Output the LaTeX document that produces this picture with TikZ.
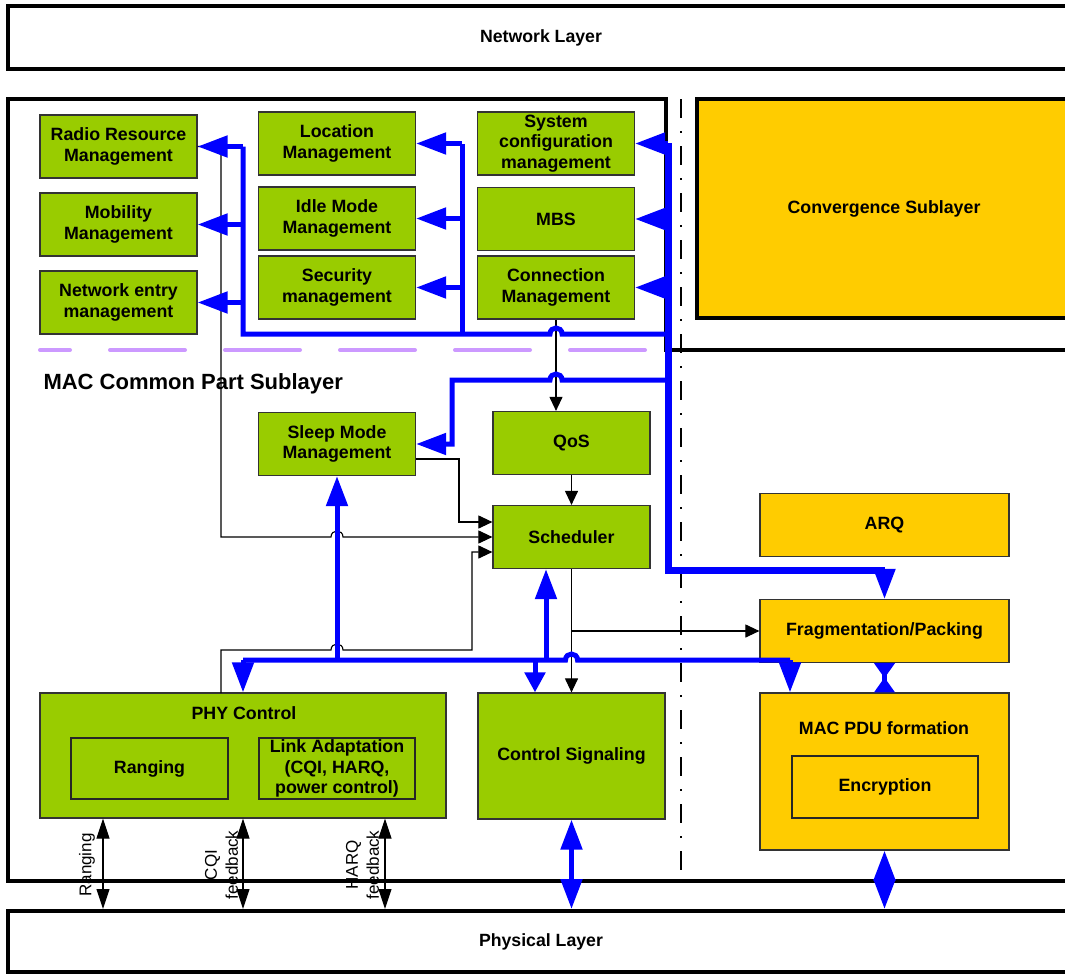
\documentclass[tikz,border=0pt]{standalone}
\usepackage{fontspec}
\setmainfont{Liberation Sans}
\usetikzlibrary{arrows.meta}

\definecolor{macgreen}{HTML}{99CC00}
\definecolor{csorange}{HTML}{FFCC00}
\definecolor{busblue}{HTML}{0000FF}
\definecolor{lavender}{HTML}{CC99FF}
\newcommand{\boxfont}{\fontsize{17.8}{20.5}\selectfont\bfseries}

\tikzset{
  gbox/.style={draw=black!80, line width=1.2, fill=macgreen, font=\boxfont,
    align=center, inner sep=1pt, minimum width=157, minimum height=63},
  obox/.style={gbox, fill=csorange, minimum width=249},
  inbox/.style={draw=black!85, line width=1.2, font=\boxfont, align=center, inner sep=1pt},
  layer/.style={draw, line width=4, font=\fontsize{17.7}{20}\selectfont\bfseries},
  thinarrow/.style={draw, line width=1.1, -{Triangle[length=14pt,width=13pt]}},
  fbarrow/.style={draw, line width=1.1,
    {Triangle[length=20pt,width=13pt]}-{Triangle[length=20pt,width=13pt]}},
  busline/.style={draw=busblue, line width=5},
  mainbus/.style={draw=busblue, line width=7},
  busarrow/.style={busline, -{Triangle[length=30pt,width=21pt]}},
  busdouble/.style={busline,
    {Triangle[length=30pt,width=21pt]}-{Triangle[length=30pt,width=21pt]}},
  splitline/.style={line width=2.2, dash pattern=on 19pt off 13pt on 2pt off 13pt},
  sidelabel/.style={rotate=90, align=center, font=\fontsize{17}{21}\selectfont},
}

\begin{document}
\begin{tikzpicture}[x=1pt,y=-1pt]
  \useasboundingbox (0,0) rectangle (1065,974);
  \clip (0,0) rectangle (1065,974);

  % layers
  \node[layer, minimum width=1066, minimum height=63] (netlayer) at (541,37.5) {Network Layer};
  \node[layer, minimum width=1066, minimum height=61] (phylayer) at (541,941.5) {Physical Layer};
  \draw[line width=4] (1080,350) -- (666,350) -- (666,99) -- (8,99) -- (8,881) -- (1080,881);
  \node[layer, fill=csorange, font=\boxfont, minimum width=374, minimum height=219] (conv) at (884,208.5) {Convergence Sublayer};
  \draw[splitline] (681,99) -- (681,881);
  \draw[lavender, line width=4, line cap=round, dash pattern=on 75pt off 40pt, dash phase=45pt] (40,350) -- (645,350);
  \node[anchor=west, font=\fontsize{22}{25}\selectfont\bfseries] (cpslabel) at (40,384) {MAC Common Part Sublayer};

  % management blocks
  \node[gbox] (rrm) at (118.5,146.5) {Radio Resource\\Management};
  \node[gbox] (mob) at (118.5,224.5) {Mobility\\Management};
  \node[gbox] (netentry) at (118.5,302.5) {Network entry\\management};
  \node[gbox] (loc) at (337,143.5) {Location\\Management};
  \node[gbox] (idle) at (337,218.5) {Idle Mode\\Management};
  \node[gbox] (sec) at (337,287.5) {Security\\management};
  \node[gbox] (sysconf) at (556,143.5) {System\\configuration\\management};
  \node[gbox] (mbs) at (556,219) {MBS};
  \node[gbox] (conn) at (556,287.5) {Connection\\Management};
  \node[gbox] (sleep) at (337,444) {Sleep Mode\\Management};
  \node[gbox] (qos) at (571.5,443) {QoS};
  \node[gbox] (sched) at (571.5,537) {Scheduler};

  % PHY control and signaling
  \node[gbox, minimum width=406, minimum height=125] (phy) at (243,755.5) {};
  \node[font=\boxfont] (phytitle) at (244,713) {PHY Control};
  \node[inbox, minimum width=157, minimum height=61] (rangebox) at (149.5,768.5) {Ranging};
  \node[inbox, minimum width=156, minimum height=61] (linkadapt) at (337,768.5) {Link Adaptation\\(CQI, HARQ,\\power control)};
  \node[gbox, minimum width=187, minimum height=126] (ctrl) at (571.5,756) {Control Signaling};

  % security sublayer side
  \node[obox] (arq) at (884.5,525) {ARQ};
  \node[obox] (frag) at (884.5,631) {Fragmentation/Packing};
  \node[obox, minimum height=157] (macpdu) at (884.5,771.5) {};
  \node[font=\boxfont] (pdutitle) at (884,728) {MAC PDU formation};
  \node[inbox, minimum width=186, minimum height=62] (encrypt) at (885,787) {Encryption};

  % black data paths
  \draw[thinarrow] (conn.south) -- (conn.south |- qos.north);
  \draw[thinarrow] (qos.south) -- (sched.north);
  \draw[thinarrow] (rrm.east) -- (221,146.5) -- (221,537) -- (331,537)
    .. controls (331,529) and (343,529) .. (343,537) -- (sched.west);
  \draw[thinarrow] (415.5,459) -- (459,459) -- (459,522) -- (459,522 -| sched.west);
  \draw[thinarrow] (221,693) -- (221,650) -- (331,650) .. controls (331,642) and (343,642) .. (343,650)
    -- (472,650) -- (472,552) -- (472,552 -| sched.west);
  \draw[thinarrow] (sched.south) -- (ctrl.north);
  \draw[thinarrow] (571.5,631) -- (frag.west);

  % blue control bus
  \draw[mainbus] (668,143) -- (668,570) -- (884.5,570);
  \draw[busarrow] (884.5,570) -- (frag.north);
  \draw[busarrow] (668,143.5) -- (sysconf.east);
  \draw[busarrow] (668,219) -- (mbs.east);
  \draw[busarrow] (668,287.5) -- (conn.east);
  \draw[busline] (668,334) -- (562,334) .. controls (562,326) and (550,326) .. (550,334)
    -- (243,334) -- (243,146.5);
  \draw[busline] (462,334) -- (462,143.5);
  \draw[busarrow] (243,146.5) -- (rrm.east);
  \draw[busarrow] (243,224.5) -- (mob.east);
  \draw[busarrow] (243,302.5) -- (netentry.east);
  \draw[busarrow] (462,143.5) -- (loc.east);
  \draw[busarrow] (462,218.5) -- (idle.east);
  \draw[busarrow] (462,287.5) -- (sec.east);
  \draw[busarrow] (668,380) -- (562,380) .. controls (562,372) and (550,372) .. (550,380)
    -- (452,380) -- (452,444) -- (sleep.east);

  \draw[busline] (790,660) -- (577.5,660) .. controls (577.5,652) and (565.5,652) .. (565.5,660) -- (243,660);
  \draw[busarrow] (243,660) -- (phy.north);
  \draw[busarrow] (337,660) -- (sleep.south);
  \draw[busarrow] (546,660) -- (546,660 |- sched.south);
  \draw[busline, -{Triangle[length=20pt,width=20pt]}] (535,660) -- (535,660 |- ctrl.north);
  \draw[busarrow] (790,660) -- (790,660 |- macpdu.north);

  \draw[busline, {Triangle[reversed,length=15pt,width=20pt]}-{Triangle[reversed,length=15pt,width=20pt]}]
    (frag.south) -- (macpdu.north);
  \draw[busdouble] (ctrl.south) -- (ctrl.south |- phylayer.north);
  \draw[busdouble] (macpdu.south) -- (macpdu.south |- phylayer.north);

  % feedback to the physical layer
  \foreach \x in {103,243,385}
    \draw[fbarrow] (\x,818 |- phy.south) -- (\x,911 |- phylayer.north);
  \node[sidelabel] (rangelabel) at (87,865) {Ranging};
  \node[sidelabel] (cqilabel) at (221.5,865) {CQI\\feedback};
  \node[sidelabel] (harqlabel) at (362.5,865) {HARQ\\feedback};
\end{tikzpicture}
\end{document}
